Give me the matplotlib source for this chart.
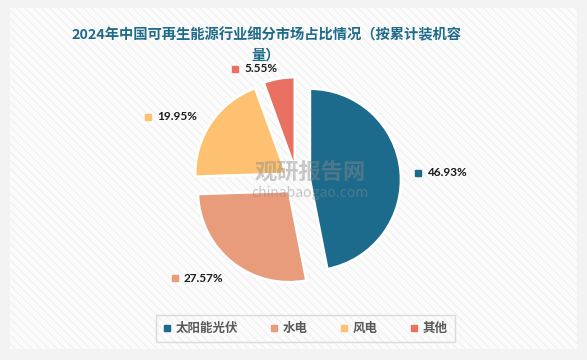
import matplotlib
matplotlib.use('Agg')
from matplotlib import pyplot as plt
from matplotlib.patches import Rectangle
from matplotlib.lines import Line2D

plt.rcParams['font.family'] = ['Noto Sans CJK SC', 'DejaVu Sans']
plt.rcParams['hatch.linewidth'] = 0.6
plt.rcParams['hatch.color'] = '#ececec'

titulo = '2024年中国可再生能源行业细分市场占比情况（按累计装机容\n量）'
categorias = ['太阳能光伏', '水电', '风电', '其他']
valores = [46.93, 27.57, 19.95, 5.55]
cores = ['#1c6b8c', '#e89c7c', '#fec171', '#e97162']
# posicao dos rotulos (pixels, origem no canto superior esquerdo)
pos_rotulos = [(418, 173), (175, 278), (148, 117), (235, 69)]

W, H = 587, 360
fig = plt.figure(figsize=(W / 100, H / 100), dpi=100, facecolor='#f3f3f3')
ax = fig.add_axes([0, 0, 1, 1])
ax.set_xlim(0, W)
ax.set_ylim(0, H)
ax.axis('off')

# painel de fundo com listras
ax.add_patch(Rectangle((10, H - 349), 567, 341, facecolor='#fbfbfb',
                       edgecolor='none', zorder=0))
ax.add_patch(Rectangle((10, H - 349), 567, 341, facecolor='none',
                       hatch='\\\\\\\\', edgecolor='#ededed', linewidth=0, zorder=0.5))

# explode em unidades de dados (pixels aqui)
ax.pie(valores, colors=cores, startangle=90, counterclock=False,
       center=(297, H - 181), radius=91, explode=[13] * 4,
       wedgeprops=dict(edgecolor='white', linewidth=1.8), frame=True)
ax.set_xlim(0, W)
ax.set_ylim(0, H)
ax.set_aspect('equal')
ax.axis('off')

for (x, y), v, c in zip(pos_rotulos, valores, cores):
    ax.plot(x, H - y, marker='s', markersize=4, color=c, zorder=5)
    ax.text(x + 9, H - y, f'{v:.2f}%', fontsize=8.5, fontweight='bold',
            color='#1a1a1a', va='center', ha='left', family='Lato', zorder=5)

# marca d'agua
ax.text(310, H - 173, '观研报告网', fontsize=16, fontweight='bold', color='#8a8a8a',
        alpha=0.45, ha='center', va='center', zorder=4)
ax.text(310, H - 193, 'chinabaogao.com', fontsize=10, color='#8a8a8a',
        alpha=0.45, ha='center', va='center', zorder=4)

ax.text(266, H - 45, titulo, fontsize=10.3, fontweight='bold', color='#1f6b8a',
        ha='center', va='center', linespacing=1.55)

handles = [Line2D([], [], marker='s', linestyle='none', markersize=5, color=c)
           for c in cores]
leg = ax.legend(handles, categorias, loc='center', ncol=4,
                bbox_to_anchor=(305.5 / W, 1 - 328.5 / H),
                frameon=True, fancybox=False, edgecolor='#d4d4d4',
                handlelength=0.6, handletextpad=0.4, columnspacing=2.6,
                borderpad=0.55, fontsize=9)
leg.get_frame().set_linewidth(1.0)
leg.get_frame().set_facecolor('none')
for t in leg.get_texts():
    t.set_color('#595959')
    t.set_fontweight('bold')

plt.savefig('out.png', dpi=100, facecolor=fig.get_facecolor())
